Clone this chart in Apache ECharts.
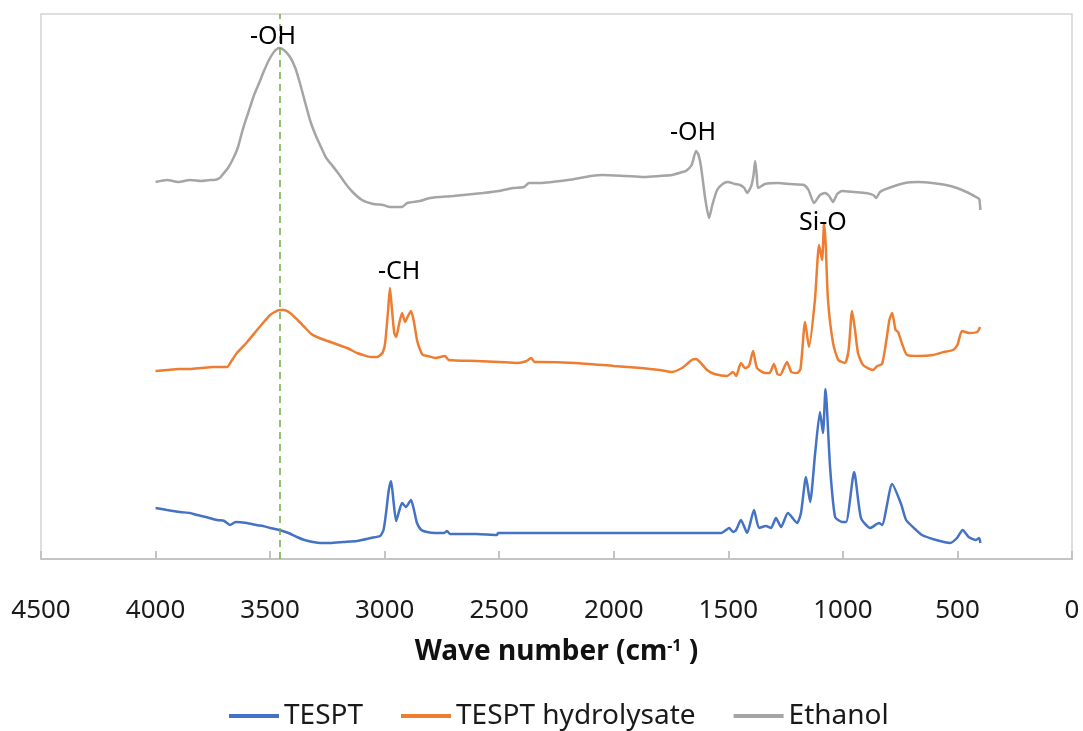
<!DOCTYPE html>
<html lang="en">
<head>
    <meta charset="UTF-8">
    <title>FTIR spectra</title>
    <script src="https://cdnjs.cloudflare.com/ajax/libs/echarts/6.0.0/echarts.min.js"></script>
    <style>
        html, body { margin: 0; padding: 0; background: #fff; }
    </style>
</head>
<body>
    <div id="ech" style="width:1083px;height:731px;"></div>
    <script>
        // wave numbers (cm-1) and relative absorbance
        const tesptWave = [4000, 3950, 3893, 3850, 3819, 3780, 3732, 3700, 3675, 3650, 3601, 3560, 3531, 3500, 3461, 3420, 3383, 3350, 3313, 3280, 3239, 3180, 3121, 3060, 3020, 3005, 2994, 2982, 2972, 2962, 2950, 2938, 2924, 2907, 2885, 2872, 2859, 2840, 2815, 2780, 2740, 2728, 2715, 2600, 2510, 2505, 2400, 2000, 1800, 1600, 1530, 1510, 1497, 1479, 1466, 1445, 1418, 1388, 1366, 1336, 1314, 1292, 1270, 1240, 1200, 1183, 1161, 1143, 1121, 1100, 1087, 1076, 1056, 1034, 1004, 986, 951, 921, 881, 842, 829, 785, 746, 724, 685, 655, 593, 532, 502, 477, 451, 419, 405, 400];
        const tesptAbs = [51, 49, 47, 46, 44, 42, 39, 38, 34, 37, 36, 34, 33, 31, 29, 26, 22, 19, 17, 16, 16, 17, 18, 21, 23, 29, 46, 69, 78, 59, 38, 47, 56, 52, 59, 49, 36, 29, 27, 26, 26, 28, 25, 25, 24, 26, 26, 26, 26, 26, 26, 29, 31, 27, 29, 39, 26, 49, 31, 33, 31, 41, 32, 46, 36, 46, 82, 57, 106, 147, 126, 170, 92, 42, 37, 37, 87, 41, 31, 36, 34, 75, 55, 39, 30, 24, 19, 16, 21, 29, 22, 19, 21, 16];

        const hydroWave = [4000, 3950, 3900, 3850, 3800, 3750, 3700, 3688, 3666, 3645, 3600, 3557, 3520, 3500, 3480, 3461, 3440, 3413, 3380, 3350, 3320, 3295, 3250, 3200, 3164, 3120, 3094, 3060, 3034, 3010, 2998, 2985, 2977, 2968, 2958, 2950, 2938, 2924, 2911, 2898, 2885, 2872, 2859, 2845, 2833, 2811, 2780, 2737, 2720, 2600, 2500, 2422, 2380, 2361, 2345, 2322, 2169, 2000, 1881, 1800, 1746, 1702, 1680, 1660, 1641, 1624, 1593, 1560, 1506, 1480, 1466, 1445, 1427, 1410, 1392, 1375, 1340, 1320, 1301, 1286, 1274, 1244, 1225, 1200, 1185, 1165, 1148, 1122, 1104, 1091, 1082, 1075, 1065, 1043, 1020, 991, 975, 960, 947, 934, 912, 869, 850, 829, 810, 797, 785, 770, 759, 740, 720, 670, 607, 560, 519, 500, 480, 450, 414, 401];
        const hydroAbs = [188, 189, 190, 190, 191, 192, 192, 192, 199, 206, 217, 229, 239, 244, 247, 249, 249, 246, 239, 232, 225, 222, 218, 214, 211, 206, 204, 202, 202, 206, 216, 249, 271, 249, 226, 222, 234, 246, 237, 243, 248, 237, 219, 209, 204, 203, 201, 203, 199, 198, 197, 196, 198, 201, 197, 197, 196, 193, 191, 189, 187, 191, 195, 199, 200, 197, 189, 185, 183, 187, 183, 196, 191, 193, 208, 191, 186, 186, 195, 185, 184, 197, 187, 186, 190, 237, 212, 259, 314, 299, 336, 314, 259, 216, 199, 196, 209, 248, 229, 206, 194, 189, 193, 195, 219, 239, 246, 229, 227, 214, 204, 203, 204, 207, 209, 214, 228, 226, 227, 232];

        const ethWave = [4000, 3950, 3900, 3850, 3800, 3762, 3745, 3720, 3705, 3684, 3660, 3640, 3620, 3596, 3570, 3548, 3525, 3505, 3480, 3461, 3440, 3413, 3390, 3370, 3350, 3326, 3300, 3278, 3255, 3234, 3200, 3173, 3140, 3099, 3050, 3007, 2977, 2946, 2924, 2902, 2846, 2802, 2700, 2571, 2500, 2440, 2392, 2370, 2322, 2200, 2100, 2049, 1950, 1868, 1800, 1746, 1700, 1685, 1660, 1641, 1630, 1619, 1600, 1584, 1570, 1549, 1525, 1503, 1470, 1449, 1430, 1418, 1400, 1390, 1383, 1376, 1370, 1340, 1283, 1230, 1170, 1150, 1126, 1100, 1078, 1060, 1043, 1025, 1004, 950, 900, 868, 855, 838, 800, 729, 670, 611, 550, 502, 460, 419, 405, 400];
        const ethAbs = [377, 379, 377, 379, 378, 379, 379, 381, 385, 391, 401, 412, 429, 446, 464, 476, 489, 499, 508, 511, 509, 502, 491, 476, 459, 439, 423, 412, 401, 395, 385, 376, 367, 359, 355, 354, 352, 352, 352, 356, 358, 361, 363, 366, 368, 371, 372, 376, 376, 379, 383, 384, 383, 382, 383, 384, 387, 388, 394, 408, 404, 392, 359, 341, 354, 369, 375, 377, 375, 374, 371, 366, 373, 384, 398, 384, 371, 375, 376, 375, 374, 369, 356, 364, 366, 363, 357, 365, 368, 367, 366, 364, 361, 367, 371, 376, 377, 376, 374, 371, 367, 362, 360, 349];

        // peak annotations (data coordinates)
        const peakText = ['-OH', '-OH', '-CH', 'Si-O'];
        const peakWave = [3487, 1654, 2937, 1087];
        const peakLevel = [522, 426, 287, 336];
        const ohLine = 3460;

        const xTicks = [0, 500, 1000, 1500, 2000, 2500, 3000, 3500, 4000, 4500];

        function pairs(xs, ys) {
            return xs.map((x, i) => [x, ys[i]]);
        }
        function peaks(idx) {
            return idx.map(i => ({ name: peakText[i], coord: [peakWave[i], peakLevel[i]] }));
        }

        const font = '"Noto Sans", "DejaVu Sans", sans-serif';
        let my_echart = echarts.init(document.getElementById('ech'));
        let peakLabel = { show: true, position: 'inside', formatter: '{b}', fontSize: 25, color: '#000', fontFamily: font };
        let option = {
            animation: false,
            textStyle: { fontFamily: font },
            grid: {
                left: 41, right: 11, top: 14, bottom: 172,
                show: true, borderColor: '#d4d4d4', borderWidth: 1.5
            },
            legend: {
                left: 224, top: 697,
                icon: 'rect', itemWidth: 50, itemHeight: 4, itemGap: 38,
                textStyle: { fontSize: 28, color: '#1a1a1a', fontFamily: font },
                data: ['TESPT', 'TESPT hydrolysate', 'Ethanol']
            },
            xAxis: {
                type: 'value',
                inverse: true,
                min: xTicks[0], max: xTicks[xTicks.length - 1], interval: 500,
                name: 'Wave number (cm{sup|-1} )',
                nameLocation: 'middle',
                nameGap: 79,
                nameTextStyle: {
                    fontSize: 28, fontWeight: 'bold', color: '#111', fontFamily: font,
                    rich: { sup: { fontSize: 16, fontWeight: 'bold', verticalAlign: 'top', color: '#111', fontFamily: font } }
                },
                axisLine: { lineStyle: { color: '#c4c4c4', width: 2 } },
                axisTick: { inside: true, length: 8, lineStyle: { color: '#c4c4c4', width: 2 } },
                axisLabel: {
                    margin: 39, fontSize: 26, color: '#1a1a1a', fontFamily: font,
                    formatter: v => String(v)
                },
                splitLine: { show: false }
            },
            yAxis: {
                type: 'value', min: 0, max: 545,
                show: false
            },
            series: [{
                name: 'TESPT',
                type: 'line',
                data: pairs(tesptWave, tesptAbs),
                showSymbol: false,
                smooth: 0.2,
                color: '#4472C4',
                lineStyle: { width: 2.5 },
                z: 3
            }, {
                name: 'TESPT hydrolysate',
                type: 'line',
                data: pairs(hydroWave, hydroAbs),
                showSymbol: false,
                smooth: 0.2,
                color: '#ED7D31',
                lineStyle: { width: 2.5 },
                z: 3,
                markPoint: {
                    symbol: 'rect', symbolSize: 1,
                    itemStyle: { color: 'transparent' },
                    label: peakLabel,
                    data: peaks([2, 3])
                }
            }, {
                name: 'Ethanol',
                type: 'line',
                data: pairs(ethWave, ethAbs),
                showSymbol: false,
                smooth: 0.2,
                color: '#A5A5A5',
                lineStyle: { width: 2.5 },
                z: 3,
                markPoint: {
                    symbol: 'rect', symbolSize: 1,
                    itemStyle: { color: 'transparent' },
                    label: peakLabel,
                    data: peaks([0, 1])
                },
                markLine: {
                    silent: true,
                    symbol: 'none',
                    label: { show: false },
                    lineStyle: { color: '#70AD47', type: [7, 5], width: 1.5 },
                    data: [{ xAxis: ohLine }]
                }
            }]
        };

        my_echart.setOption(option);
    </script>
</body>
</html>
